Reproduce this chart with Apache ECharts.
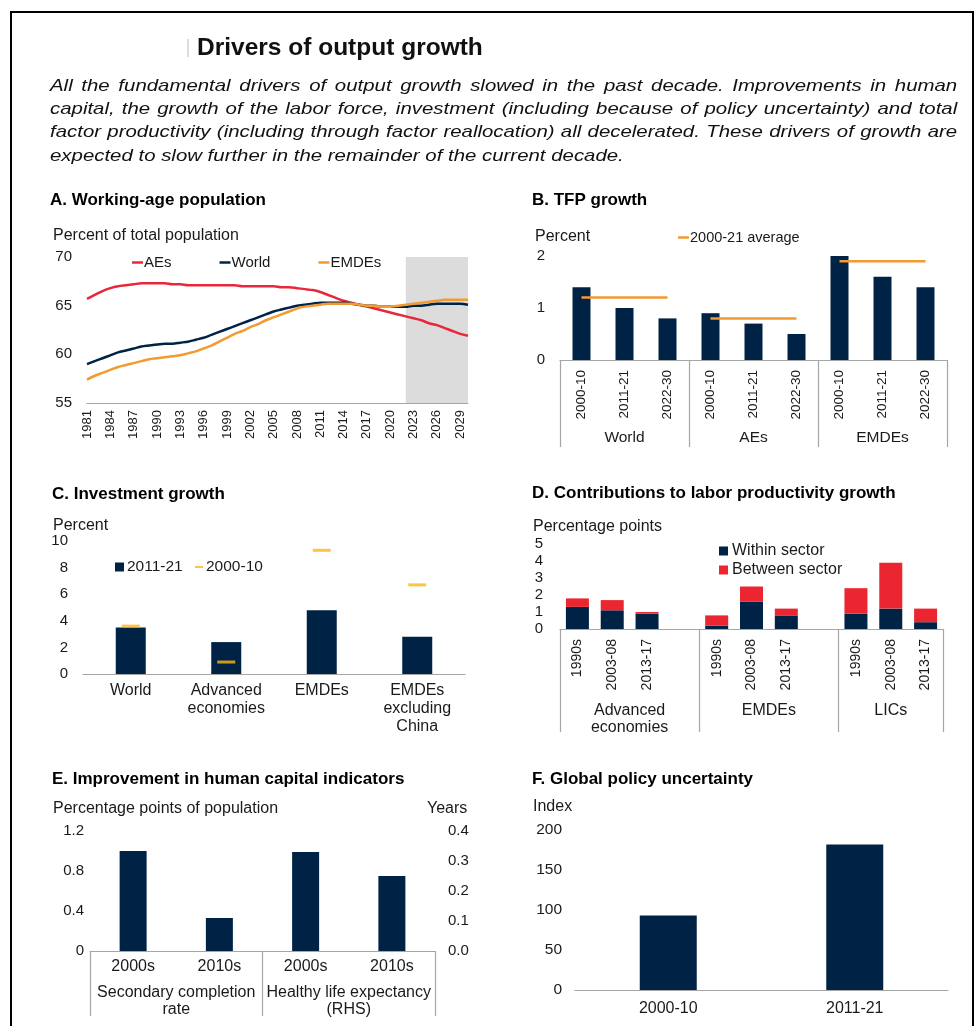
<!DOCTYPE html>
<html><head><meta charset="utf-8">
<script src="https://cdn.jsdelivr.net/npm/echarts@6.0.0/dist/echarts.min.js"></script>
<style>
html,body{margin:0;padding:0;background:#fff;}
#frame{position:absolute;left:10px;top:11px;width:964px;height:1040px;border:2px solid #000;border-bottom:none;box-sizing:border-box;}
#chart{position:absolute;left:0;top:0;width:977px;height:1026px;}
#title{position:absolute;left:197px;top:33px;font:bold 24.5px/28px 'Liberation Sans',Arial,sans-serif;color:#111;white-space:nowrap;}
#mark{position:absolute;left:187px;top:39px;width:2px;height:18px;background:#ddd;}
#para{position:absolute;left:50px;top:74px;width:756px;font:italic 17px/23.2px 'Liberation Sans',Arial,sans-serif;color:#111;transform:scaleX(1.2);transform-origin:0 0;}
#para div{text-align:justify;text-align-last:justify;white-space:nowrap;}
#para div.last{text-align-last:left;}
</style></head>
<body>
<div id="frame"></div>
<div id="chart"></div>
<div id="mark"></div>
<div id="title">Drivers of output growth</div>
<div id="para">
<div>All the fundamental drivers of output growth slowed in the past decade. Improvements in human</div>
<div>capital, the growth of the labor force, investment (including because of policy uncertainty) and total</div>
<div>factor productivity (including through factor reallocation) all decelerated. These drivers of growth are</div>
<div class="last">expected to slow further in the remainder of the current decade.</div>
</div>
<script>
// ---------- DATA ----------
const years = [];
for (let y = 1981; y <= 2030; y++) years.push(String(y));
const aesPop = [65.7,66.1,66.5,66.8,67.0,67.1,67.2,67.3,67.3,67.3,67.3,67.2,67.2,67.1,67.1,67.1,67.1,67.1,67.1,67.1,
  67.0,67.0,67.0,67.0,67.0,66.9,66.9,66.8,66.7,66.6,66.4,66.1,65.8,65.5,65.3,65.1,64.9,64.7,64.5,64.3,
  64.1,63.9,63.7,63.5,63.2,63.0,62.7,62.4,62.1,61.9];
const worldPop = [59.0,59.3,59.6,59.9,60.2,60.4,60.6,60.8,60.9,61.0,61.1,61.1,61.2,61.3,61.5,61.7,62.0,62.3,62.6,62.9,
  63.2,63.5,63.8,64.1,64.4,64.6,64.8,65.0,65.1,65.2,65.3,65.3,65.3,65.3,65.2,65.1,65.0,65.0,64.9,64.9,
  64.9,64.9,65.0,65.0,65.1,65.2,65.2,65.2,65.2,65.1];
const emdePop = [57.4,57.8,58.1,58.4,58.7,58.9,59.1,59.3,59.5,59.6,59.7,59.8,59.9,60.1,60.3,60.6,60.9,61.3,61.7,62.1,
  62.4,62.8,63.1,63.5,63.8,64.1,64.4,64.7,64.9,65.0,65.1,65.2,65.2,65.2,65.2,65.1,65.0,65.0,64.9,64.9,
  65.0,65.1,65.2,65.3,65.4,65.5,65.6,65.6,65.6,65.6];
const projectionStart = '2022', projectionEnd = '2030';

const tfpPeriods = ['2000-10','2011-21','2022-30'];
const tfpGroups = ['World','AEs','EMDEs'];
const tfpValues = [1.4,1.0,0.8, 0.9,0.7,0.5, 2.0,1.6,1.4];
const tfpAverage = [1.2,0.8,1.9];

const invCategories = ['World','Advanced\neconomies','EMDEs','EMDEs\nexcluding\nChina'];
const inv2011_21 = [3.5,2.4,4.8,2.8];
const inv2000_10 = [3.6,0.9,9.3,6.7];

const lpPeriods = ['1990s','2003-08','2013-17'];
const lpGroups = ['Advanced\neconomies','EMDEs','LICs'];
const lpWithin  = [1.3,1.1,0.9, 0.2,1.6,0.8, 0.9,1.2,0.4];
const lpBetween = [0.5,0.6,0.1, 0.6,0.9,0.4, 1.5,2.7,0.8];

const hcPeriods = ['2000s','2010s'];
const hcGroups = ['Secondary completion\nrate','Healthy life expectancy\n(RHS)'];
const hcSecondary = [1.0,0.33];
const hcLife = [0.33,0.25];

const epuCategories = ['2000-10','2011-21'];
const epuValues = [93,182];

// ---------- derived structures ----------
const tfpCats = [];
tfpGroups.forEach(() => tfpPeriods.forEach(p => tfpCats.push(p)));

const lpCats = [], lpBoundaries = [], lpCenters = [], lpW = [], lpB = [];
lpGroups.forEach((g, gi) => {
  const start = lpCats.length; lpBoundaries.push(start);
  lpPeriods.forEach((p, pi) => { lpCats.push(p); lpW.push(lpWithin[gi*3+pi]); lpB.push(lpBetween[gi*3+pi]); });
  if (gi < lpGroups.length - 1) { lpCats.push(''); lpW.push('-'); lpB.push('-'); }
  lpCenters.push((start + lpCats.length) / 2);
});

const hcCats = [];
hcGroups.forEach(() => hcPeriods.forEach(p => hcCats.push(p)));

// ---------- style ----------
const FONT = "'Liberation Sans', Arial, sans-serif";
const NAVY = '#002345', RED = '#E8283A', ORANGE = '#F39A30', GOLD = '#FBB616', AX = '#A6A6A6', TXT = '#1a1a1a';
const lbl = (s, extra) => Object.assign({fontFamily: FONT, fontSize: s, color: TXT}, extra || {});
const noLine = {show: false}, noTick = {show: false}, noSplit = {show: false};
const axLine = {show: true, lineStyle: {color: AX, width: 1.2}};

function ttl(text, left, top, bold) {
  return {text, left, top, padding: 0, textStyle: {fontFamily: FONT, fontSize: bold ? 17 : 16, fontWeight: bold ? 'bold' : 'normal', color: bold ? '#000' : TXT}};
}
function yax(grid, min, max, interval, extra) {
  return Object.assign({gridIndex: grid, type: 'value', min, max, interval, axisLine: noLine, axisTick: noTick, splitLine: noSplit,
    axisLabel: lbl(15, {margin: 15})}, extra || {});
}
const fmt1 = v => v.toFixed(1);

const chart = echarts.init(document.getElementById('chart'), null, {renderer: 'canvas'});
chart.setOption({
  animation: false,
  backgroundColor: 'transparent',
  title: [
    ttl('A. Working-age population', 50, 192, true),
    ttl('B. TFP growth', 532, 192, true),
    ttl('C. Investment growth', 52, 486, true),
    ttl('D. Contributions to labor productivity growth', 532, 485, true),
    ttl('E. Improvement in human capital indicators', 52, 771, true),
    ttl('F. Global policy uncertainty', 532, 771, true),
    ttl('Percent of total population', 53, 228),
    ttl('Percent', 535, 229),
    ttl('Percent', 53, 518),
    ttl('Percentage points', 533, 519),
    ttl('Percentage points of population', 53, 801),
    ttl('Years', 427, 801),
    ttl('Index', 533, 799)
  ],
  legend: [
    {data: ['AEs','World','EMDEs'], left: 132, top: 255, padding: 0, icon: 'rect', itemWidth: 11, itemHeight: 2.5, itemGap: 48, textStyle: lbl(15, {padding: [0,0,0,-4]})},
    {data: ['2000-21 average'], left: 678, top: 230, padding: 0, icon: 'rect', itemWidth: 11, itemHeight: 2.5, textStyle: lbl(14.5, {padding: [0,0,0,-4]})},
    {data: ['2011-21'], left: 115, top: 559, padding: 0, icon: 'rect', itemWidth: 9, itemHeight: 9, textStyle: lbl(15.5, {padding: [0,0,0,-2]})},
    {data: ['2000-10'], left: 195, top: 559, padding: 0, icon: 'rect', itemWidth: 8, itemHeight: 2, textStyle: lbl(15.5, {padding: [0,0,0,-2]})},
    {data: ['Within sector','Between sector'], orient: 'vertical', left: 719, top: 543, padding: 0, icon: 'rect', itemWidth: 9, itemHeight: 9, itemGap: 3, textStyle: lbl(16, {padding: [0,0,0,-1]})}
  ],
  grid: [
    {left: 87, top: 257, width: 381, height: 146},
    {left: 560, top: 256, width: 387, height: 104},
    {left: 83, top: 541, width: 382, height: 133},
    {left: 560, top: 544, width: 383, height: 85},
    {left: 90, top: 831, width: 345, height: 120},
    {left: 575, top: 830, width: 373, height: 160}
  ],
  xAxis: [
    {gridIndex: 0, position: 'bottom', type: 'category', data: years, boundaryGap: false, axisLine: axLine, axisTick: noTick,
      axisLabel: lbl(13, {rotate: 90, interval: 2, margin: 7})},
    {gridIndex: 1, position: 'bottom', type: 'category', data: tfpCats, axisLine: axLine,
      axisTick: {show: true, interval: i => i % tfpPeriods.length === 0, length: 87, lineStyle: {color: AX, width: 1.2}},
      axisLabel: lbl(13.5, {rotate: 90, interval: 0, margin: 10})},
    {gridIndex: 1, position: 'bottom', type: 'category', data: tfpGroups, axisLine: noLine, axisTick: noTick,
      axisLabel: lbl(15.5, {interval: 0, margin: 70})},
    {gridIndex: 2, position: 'bottom', type: 'category', data: invCategories, axisLine: axLine, axisTick: noTick,
      axisLabel: lbl(16, {interval: 0, margin: 8, lineHeight: 18})},
    {gridIndex: 3, position: 'bottom', type: 'category', data: lpCats, axisLine: axLine,
      axisTick: {show: true, interval: i => lpBoundaries.includes(i), length: 103, lineStyle: {color: AX, width: 1.2}},
      axisLabel: lbl(14, {rotate: 90, interval: 0, margin: 10})},
    {gridIndex: 3, position: 'bottom', type: 'value', min: 0, max: lpCats.length, interval: 0.5, axisLine: noLine, axisTick: noTick, splitLine: noSplit,
      axisLabel: lbl(16, {margin: 73, lineHeight: 17, showMinLabel: true, showMaxLabel: true,
        formatter: v => { const i = lpCenters.findIndex(c => Math.abs(c - v) < 1e-6); return i >= 0 ? lpGroups[i] : ''; }})},
    {gridIndex: 4, position: 'bottom', type: 'category', data: hcCats, axisLine: axLine,
      axisTick: {show: true, interval: i => i % hcPeriods.length === 0, length: 65, lineStyle: {color: AX, width: 1.2}},
      axisLabel: lbl(16, {interval: 0, margin: 8})},
    {gridIndex: 4, position: 'bottom', type: 'category', data: hcGroups, axisLine: noLine, axisTick: noTick,
      axisLabel: lbl(16, {interval: 0, margin: 33, lineHeight: 17})},
    {gridIndex: 5, position: 'bottom', type: 'category', data: epuCategories, axisLine: axLine, axisTick: noTick,
      axisLabel: lbl(16, {interval: 0, margin: 11})}
  ],
  yAxis: [
    yax(0, 55, 70, 5),
    yax(1, 0, 2, 1),
    yax(2, 0, 10, 2),
    yax(3, 0, 5, 1, {axisLabel: lbl(15, {margin: 17})}),
    yax(4, 0, 1.2, 0.4, {axisLabel: lbl(15, {margin: 6, formatter: v => v === 0 ? '0' : fmt1(v)})}),
    yax(4, 0, 0.4, 0.1, {position: 'right', axisLabel: lbl(15, {margin: 13, formatter: fmt1})}),
    yax(5, 0, 200, 50, {axisLabel: lbl(15.5, {margin: 13})})
  ],
  series: [
    // A
    {type: 'line', name: 'Projection', xAxisIndex: 0, yAxisIndex: 0, data: [], silent: true, z: 1,
      markArea: {silent: true, itemStyle: {color: '#DCDCDC'}, data: [[{xAxis: projectionStart}, {xAxis: projectionEnd}]]}},
    {type: 'line', name: 'AEs', xAxisIndex: 0, yAxisIndex: 0, data: aesPop, smooth: 0.3, showSymbol: false, z: 3,
      lineStyle: {color: RED, width: 2.5}, itemStyle: {color: RED}},
    {type: 'line', name: 'World', xAxisIndex: 0, yAxisIndex: 0, data: worldPop, smooth: 0.3, showSymbol: false, z: 3,
      lineStyle: {color: NAVY, width: 2.5}, itemStyle: {color: NAVY}},
    {type: 'line', name: 'EMDEs', xAxisIndex: 0, yAxisIndex: 0, data: emdePop, smooth: 0.3, showSymbol: false, z: 3,
      lineStyle: {color: ORANGE, width: 2.5}, itemStyle: {color: ORANGE}},
    // B
    {type: 'bar', name: 'TFP growth', xAxisIndex: 1, yAxisIndex: 1, data: tfpValues, barWidth: 18, itemStyle: {color: NAVY}},
    ...tfpGroups.map((g, gi) => ({type: 'line', name: '2000-21 average', xAxisIndex: 1, yAxisIndex: 1, z: 4, showSymbol: false,
      data: tfpCats.map((_, i) => Math.floor(i / tfpPeriods.length) === gi ? tfpAverage[gi] : '-'),
      lineStyle: {color: ORANGE, width: 2.5}, itemStyle: {color: ORANGE}})),
    // C
    {type: 'bar', name: '2011-21', xAxisIndex: 3, yAxisIndex: 2, data: inv2011_21, barWidth: 30, itemStyle: {color: NAVY}},
    {type: 'scatter', name: '2000-10', xAxisIndex: 3, yAxisIndex: 2, data: inv2000_10, symbol: 'rect', symbolSize: [18, 3], z: 4,
      itemStyle: {color: GOLD}},
    // D
    {type: 'bar', name: 'Within sector', xAxisIndex: 4, yAxisIndex: 3, data: lpW, stack: 'lp', barWidth: 23, itemStyle: {color: NAVY}},
    {type: 'bar', name: 'Between sector', xAxisIndex: 4, yAxisIndex: 3, data: lpB, stack: 'lp', barWidth: 23, itemStyle: {color: '#EC2630'}},
    // E
    {type: 'bar', name: 'Secondary completion rate', xAxisIndex: 6, yAxisIndex: 4, barWidth: 27, barGap: '-100%',
      data: hcSecondary.concat(hcLife.map(() => '-')), itemStyle: {color: NAVY}},
    {type: 'bar', name: 'Healthy life expectancy', xAxisIndex: 6, yAxisIndex: 5, barWidth: 27, barGap: '-100%',
      data: hcSecondary.map(() => '-').concat(hcLife), itemStyle: {color: NAVY}},
    // F
    {type: 'bar', name: 'Global policy uncertainty', xAxisIndex: 8, yAxisIndex: 6, data: epuValues, barWidth: 57, itemStyle: {color: NAVY}}
  ]
});
</script>
</body></html>
